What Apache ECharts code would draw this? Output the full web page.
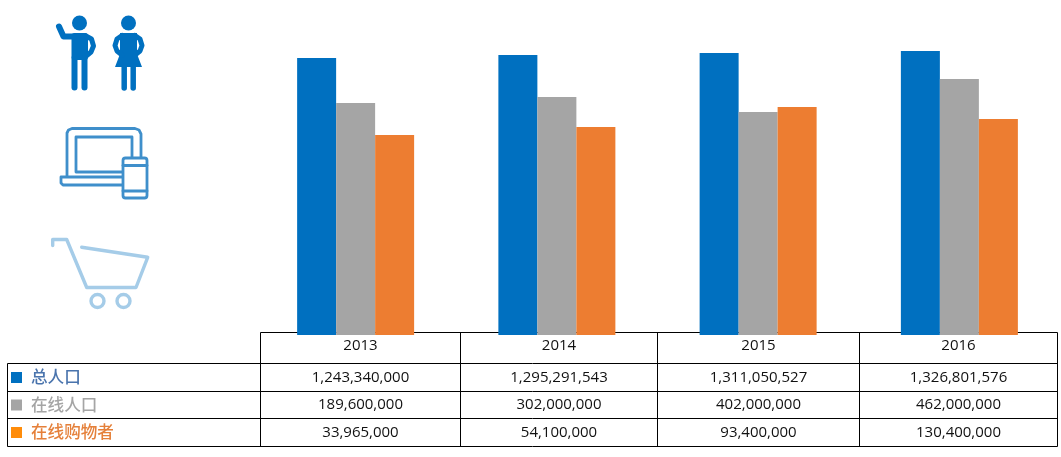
<!DOCTYPE html>
<html>
<head>
<meta charset="utf-8">
<style>
  html, body { margin: 0; padding: 0; background: #fff; }
  #chart { width: 1061px; height: 457px; }
</style>
<script src="https://cdn.jsdelivr.net/npm/echarts@6/dist/echarts.min.js"></script>
</head>
<body>
<div id="chart"></div>
<script>
const years = ["2013", "2014", "2015", "2016"];
const seriesNames = ["总人口", "在线人口", "在线购物者"];

// bar heights as drawn in the picture (they do not follow the table figures)
const totalBars = [277, 280, 282, 284];
const onlineBars = [232, 238, 223, 256];
const shopperBars = [200, 208, 228, 216];

// figures printed in the table
const totalRow = ["1,243,340,000", "1,295,291,543", "1,311,050,527", "1,326,801,576"];
const onlineRow = ["189,600,000", "302,000,000", "402,000,000", "462,000,000"];
const shopperRow = ["33,965,000", "54,100,000", "93,400,000", "130,400,000"];

const barColors = ["#0070c0", "#a5a5a5", "#ed7d31"];
const keyColors = ["#0070c0", "#a5a5a5", "#ff8c0a"];
const nameColors = ["#4a74ad", "#a5a5a5", "#e5803a"];

const colX = [260.5, 460.5, 657.5, 859.5, 1057.5];
const rowY = [332.5, 363.5, 391.5, 418.5, 446.5];
const tableLeft = 7.5;

const line = (x1, y1, x2, y2) => ({
  type: "line",
  z: 1,
  shape: { x1, y1, x2, y2 },
  style: { stroke: "#000", lineWidth: 1 },
});

const label = (text, x, y, fontSize, fill, align, fontFamily, fontWeight) => ({
  type: "text",
  z: 3,
  x,
  y,
  style: {
    text,
    fill,
    fontSize,
    fontFamily,
    fontWeight: fontWeight || "normal",
    align,
    verticalAlign: "middle",
  },
});

const genTable = () => {
  const cellFont = '"Open Sans", sans-serif';
  const nameFont = '"Noto Sans CJK SC", sans-serif';
  const rows = [totalRow, onlineRow, shopperRow];
  const textY = [377.5, 405, 432.5];
  const els = [];

  // grid lines
  els.push(line(colX[0], rowY[0], colX[4], rowY[0]));
  rowY.slice(1).forEach((y) => els.push(line(tableLeft, y, colX[4], y)));
  colX.forEach((x) => els.push(line(x, rowY[0], x, rowY[4])));
  els.push(line(tableLeft, rowY[1], tableLeft, rowY[4]));

  // header years
  years.forEach((year, i) => {
    els.push(label(year, (colX[i] + colX[i + 1]) / 2, 345.5, 15, "#111", "center", cellFont));
  });

  // rows with their colour key
  rows.forEach((row, r) => {
    els.push({
      type: "rect",
      z: 3,
      shape: { x: 11, y: textY[r] - 5.5, width: 11, height: 11 },
      style: { fill: keyColors[r] },
    });
    els.push(label(seriesNames[r], 31, textY[r] - 0.5, 16.6, nameColors[r], "left", nameFont, 500));
    row.forEach((cell, i) => {
      els.push(label(cell, (colX[i] + colX[i + 1]) / 2, textY[r], 15, "#111", "center", cellFont));
    });
  });
  return els;
};

const stroke = (color, lineWidth) => ({
  stroke: color,
  lineWidth,
  fill: null,
  lineCap: "round",
  lineJoin: "round",
});

const polyline = (points, style) => ({ type: "polyline", z: 3, shape: { points }, style });

const genPeople = () => {
  const blue = "#0070c0";
  const solid = { fill: blue };
  return [
    // man
    { type: "circle", z: 3, shape: { cx: 79.5, cy: 23, r: 7.5 }, style: solid },
    { type: "rect", z: 3, shape: { x: 71.5, y: 33, width: 16.5, height: 27, r: 3 }, style: solid },
    polyline([[59, 26.5], [63.5, 36.5], [74, 36.5]], stroke(blue, 6)),
    polyline([[85, 35.5], [91.5, 39], [93.5, 46], [91, 52], [85, 57]], stroke(blue, 5)),
    polyline([[74.5, 58], [74.5, 87.5]], stroke(blue, 6)),
    polyline([[84.5, 58], [84.5, 87.5]], stroke(blue, 6)),
    // woman
    { type: "circle", z: 3, shape: { cx: 128.5, cy: 23, r: 7.5 }, style: solid },
    {
      type: "polygon",
      z: 3,
      shape: { points: [[120, 33], [137, 33], [137, 54], [142, 67], [115, 67], [120, 54]] },
      style: solid,
    },
    polyline([[122, 35.5], [117, 39], [115, 45.5], [117, 51], [122, 55]], stroke(blue, 5)),
    polyline([[135, 35.5], [140, 39], [142, 45.5], [140, 51], [135, 55]], stroke(blue, 5)),
    polyline([[124.2, 66], [124.2, 88]], stroke(blue, 5.5)),
    polyline([[133.2, 66], [133.2, 88]], stroke(blue, 5.5)),
  ];
};

const genDevices = () => {
  const blue = "#3f8fcb";
  const w = 2.8;
  return [
    polyline(
      [[67, 176], [67, 133], [68.5, 130], [72, 128.5], [135, 128.5], [139, 130], [141, 134], [141, 157]],
      stroke(blue, w)
    ),
    { type: "rect", z: 3, shape: { x: 76, y: 137, width: 56, height: 35 }, style: stroke(blue, w) },
    polyline([[122, 177], [61, 177], [61, 183], [63, 185], [122, 185]], stroke(blue, w)),
    {
      type: "rect",
      z: 4,
      shape: { x: 123, y: 158, width: 24, height: 40, r: 2.5 },
      style: { stroke: blue, lineWidth: w, fill: "#fff" },
    },
    { type: "line", z: 4, shape: { x1: 123, y1: 165.5, x2: 147, y2: 165.5 }, style: stroke(blue, w) },
    { type: "line", z: 4, shape: { x1: 123, y1: 191, x2: 147, y2: 191 }, style: stroke(blue, w) },
  ];
};

const genCart = () => {
  const blue = "#a5cce8";
  const w = 3.4;
  return [
    polyline(
      [[52.7, 245.5], [52.7, 239.5], [66.7, 239.5], [86.7, 287.5], [136, 287.5], [147.7, 257.3], [81.7, 247.3]],
      stroke(blue, w)
    ),
    { type: "circle", z: 3, shape: { cx: 97.5, cy: 301, r: 6.5 }, style: stroke(blue, w) },
    { type: "circle", z: 3, shape: { cx: 123.5, cy: 301, r: 6.5 }, style: stroke(blue, w) },
  ];
};

const renderChart = () => {
  const myChart = echarts.init(document.getElementById("chart"));
  const barData = [totalBars, onlineBars, shopperBars];

  const option = {
    backgroundColor: "#fff",
    animation: false,
    grid: { left: 255, right: 1, top: 0, bottom: 122 },
    xAxis: {
      type: "category",
      data: years,
      axisLine: { show: false },
      axisTick: { show: false },
      axisLabel: { show: false },
    },
    yAxis: { type: "value", min: 0, max: 335, show: false },
    series: seriesNames.map((name, i) => ({
      name,
      type: "bar",
      data: barData[i],
      barWidth: 39,
      barGap: 0,
      z: 2,
      itemStyle: { color: barColors[i] },
    })),
    graphic: { elements: [...genTable(), ...genPeople(), ...genDevices(), ...genCart()] },
  };

  myChart.setOption(option);
};

renderChart();
</script>
</body>
</html>
